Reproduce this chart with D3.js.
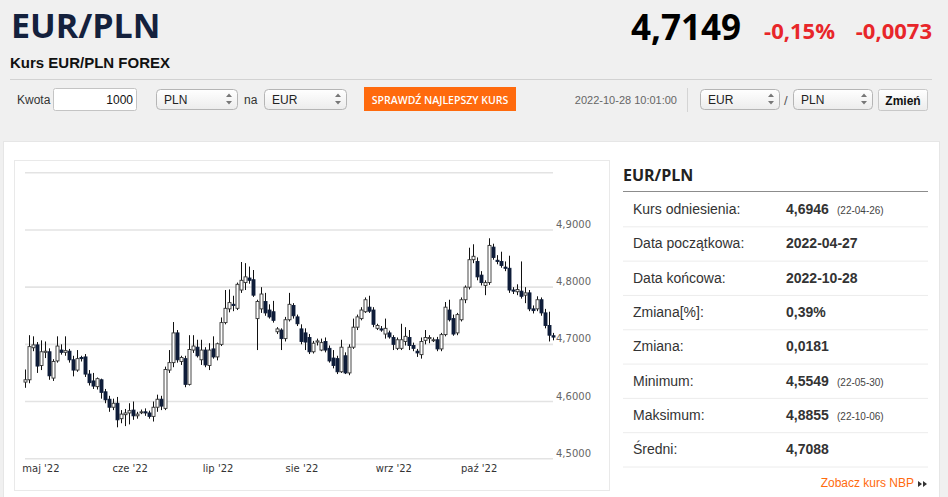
<!DOCTYPE html>
<html>
<head>
<meta charset="utf-8">
<script src="https://cdn.jsdelivr.net/npm/d3@7"></script>
<style>
  body { margin: 0; background: #f0f0f0; overflow: hidden; }
  svg text { font-family: "Liberation Sans", Arial, sans-serif; }
</style>
</head>
<body>
<svg id="page" width="948" height="497"></svg>
<script>
// daily candles EUR/PLN, trading days 2022-04-27 .. 2022-10-28
const openV = [4.634,4.638,4.694,4.699,4.663,4.686,4.687,4.641,4.671,4.690,4.686,4.688,4.673,4.655,4.677,4.678,4.648,4.636,4.626,4.638,4.617,4.604,4.590,4.597,
  4.570,4.577,4.580,4.585,4.575,4.582,4.582,4.580,4.574,4.590,4.604,4.588,4.655,4.668,4.720,4.670,4.675,4.630,4.690,4.695,4.673,4.690,4.663,
  4.692,4.678,4.700,4.738,4.762,4.770,4.763,4.795,4.808,4.816,4.813,4.745,4.762,4.775,4.760,4.757,4.722,4.725,4.710,4.743,4.768,
  4.748,4.727,4.720,4.712,4.687,4.704,4.690,4.705,4.693,4.676,4.675,4.652,4.680,4.650,4.695,4.730,4.745,4.757,4.765,4.760,4.728,4.727,4.718,
  4.720,4.712,4.693,4.693,4.705,4.712,4.698,4.688,4.682,4.707,4.710,4.708,4.708,4.692,4.717,4.760,4.745,4.720,4.743,4.778,4.800,4.848,
  4.845,4.821,4.803,4.808,4.870,4.847,4.845,4.835,4.833,4.795,4.792,4.793,4.786,4.790,4.762,4.762,4.778,4.755,4.733,4.715];
const highV = [4.656,4.716,4.714,4.704,4.707,4.705,4.693,4.674,4.714,4.700,4.714,4.692,4.680,4.690,4.680,4.683,4.655,4.650,4.642,4.640,4.622,4.610,4.605,4.608,
  4.585,4.587,4.597,4.600,4.582,4.586,4.588,4.584,4.600,4.612,4.610,4.661,4.690,4.739,4.725,4.680,4.680,4.716,4.716,4.708,4.708,4.695,4.702,
  4.714,4.703,4.747,4.795,4.796,4.785,4.808,4.844,4.842,4.836,4.830,4.778,4.800,4.790,4.770,4.776,4.730,4.728,4.748,4.790,4.772,
  4.752,4.735,4.728,4.718,4.706,4.710,4.710,4.712,4.698,4.690,4.680,4.708,4.686,4.700,4.745,4.752,4.765,4.782,4.785,4.765,4.736,4.732,4.745,
  4.724,4.716,4.712,4.736,4.730,4.725,4.703,4.692,4.712,4.725,4.716,4.712,4.713,4.720,4.774,4.778,4.752,4.755,4.782,4.803,4.869,4.875,
  4.852,4.828,4.812,4.8855,4.876,4.856,4.862,4.845,4.855,4.800,4.805,4.845,4.800,4.795,4.768,4.784,4.782,4.762,4.757,4.720];
const lowV = [4.624,4.632,4.688,4.650,4.655,4.676,4.638,4.636,4.668,4.682,4.680,4.668,4.644,4.652,4.670,4.643,4.628,4.622,4.621,4.605,4.597,4.582,4.585,4.5549,
  4.562,4.557,4.560,4.568,4.570,4.578,4.575,4.570,4.565,4.582,4.585,4.585,4.650,4.660,4.668,4.664,4.625,4.628,4.685,4.677,4.664,4.660,4.655,
  4.675,4.672,4.697,4.735,4.756,4.758,4.760,4.790,4.795,4.806,4.783,4.690,4.755,4.750,4.745,4.738,4.718,4.690,4.705,4.740,4.745,
  4.732,4.700,4.690,4.683,4.684,4.698,4.688,4.686,4.668,4.658,4.648,4.650,4.648,4.646,4.692,4.725,4.742,4.755,4.755,4.730,4.725,4.722,4.710,
  4.710,4.690,4.690,4.690,4.698,4.690,4.688,4.678,4.675,4.700,4.702,4.704,4.688,4.688,4.714,4.740,4.715,4.716,4.740,4.772,4.796,4.842,
  4.812,4.803,4.786,4.804,4.848,4.840,4.834,4.828,4.790,4.788,4.786,4.780,4.772,4.758,4.754,4.758,4.750,4.728,4.705,4.707];
const closeV = [4.638,4.696,4.699,4.662,4.687,4.688,4.645,4.670,4.697,4.686,4.689,4.673,4.655,4.675,4.675,4.648,4.633,4.627,4.640,4.616,4.603,4.590,4.597,4.568,
  4.578,4.580,4.584,4.575,4.578,4.582,4.580,4.574,4.590,4.604,4.592,4.656,4.668,4.720,4.673,4.677,4.630,4.691,4.697,4.680,4.690,4.664,4.690,
  4.678,4.701,4.738,4.763,4.773,4.768,4.805,4.812,4.818,4.812,4.786,4.775,4.788,4.755,4.748,4.742,4.727,4.710,4.743,4.770,4.750,
  4.736,4.705,4.704,4.687,4.702,4.706,4.703,4.690,4.671,4.663,4.652,4.695,4.650,4.695,4.730,4.748,4.760,4.778,4.758,4.735,4.733,4.725,4.728,
  4.713,4.700,4.708,4.708,4.714,4.698,4.693,4.685,4.705,4.712,4.712,4.708,4.692,4.717,4.765,4.743,4.718,4.752,4.778,4.800,4.848,4.854,
  4.818,4.808,4.808,4.873,4.852,4.845,4.838,4.833,4.795,4.793,4.796,4.784,4.790,4.762,4.759,4.778,4.755,4.733,4.716,4.7127];

const yTicks = [4.5, 4.6, 4.7, 4.8, 4.9, 5.0];
const yTickLabels = ["4,5000", "4,6000", "4,7000", "4,8000", "4,9000", ""];
const monthStarts = ["2022-05-01", "2022-06-01", "2022-07-01", "2022-08-01", "2022-09-01", "2022-10-01"];
const monthLabels = ["maj '22", "cze '22", "lip '22", "sie '22", "wrz '22", "paź '22"];

const statLabels = ["Kurs odniesienia:", "Data początkowa:", "Data końcowa:", "Zmiana[%]:", "Zmiana:", "Minimum:", "Maksimum:", "Średni:"];
const statValues = ["4,6946", "2022-04-27", "2022-10-28", "0,39%", "0,0181", "4,5549", "4,8855", "4,7088"];
const statNotes = ["(22-04-26)", "", "", "", "", "(22-05-30)", "(22-10-06)", ""];

// trading days (weekdays) for the x axis
const dates = [];
for (let d = new Date(Date.UTC(2022, 3, 27)); dates.length < closeV.length; d = new Date(d.getTime() + 864e5)) {
  const wd = d.getUTCDay();
  if (wd !== 0 && wd !== 6) dates.push(d);
}
const candles = dates.map((d, i) => ({date: d, o: openV[i], h: highV[i], l: lowV[i], c: closeV[i]}));

const svg = d3.select("#page");

// ---------- header ----------
svg.append("rect").attr("width", 948).attr("height", 497).attr("fill", "#f0f0f0");

svg.append("text").attr("x", 11).attr("y", 38)
  .style("font-family", "'Open Sans', sans-serif").style("font-weight", 700)
  .style("font-size", "34px").attr("fill", "#14213d").text("EUR/PLN");
svg.append("text").attr("x", 10).attr("y", 68)
  .style("font-weight", "bold").style("font-size", "15px").attr("fill", "#111")
  .text("Kurs EUR/PLN FOREX");

svg.append("text").attr("x", 741).attr("y", 40).attr("text-anchor", "end")
  .style("font-family", "'Open Sans', sans-serif").style("font-weight", 700)
  .style("font-size", "35px").attr("fill", "#000").text("4,7149");
svg.append("text").attr("x", 835).attr("y", 39).attr("text-anchor", "end")
  .style("font-family", "'Open Sans', sans-serif").style("font-weight", 700)
  .style("font-size", "22px").attr("fill", "#e8262a").text("-0,15%");
svg.append("text").attr("x", 932).attr("y", 39).attr("text-anchor", "end")
  .style("font-family", "'Open Sans', sans-serif").style("font-weight", 700)
  .style("font-size", "22px").attr("fill", "#e8262a").text("-0,0073");

svg.append("line").attr("x1", 10).attr("x2", 932).attr("y1", 79.5).attr("y2", 79.5)
  .attr("stroke", "#d2d2d2");

// form row
const defs = svg.append("defs");
const grad = defs.append("linearGradient").attr("id", "selGrad").attr("x1", 0).attr("x2", 0).attr("y1", 0).attr("y2", 1);
grad.append("stop").attr("offset", "0%").attr("stop-color", "#ffffff");
grad.append("stop").attr("offset", "100%").attr("stop-color", "#ececec");

function selectBox(x, w, label) {
  const g = svg.append("g").attr("transform", `translate(${x},89)`);
  g.append("rect").attr("x", 0.5).attr("y", 0.5).attr("width", w).attr("height", 20)
    .attr("rx", 4).attr("fill", "url(#selGrad)").attr("stroke", "#b5b5b5");
  g.append("text").attr("x", 8).attr("y", 15).style("font-size", "12px").attr("fill", "#222").text(label);
  g.append("path").attr("d", `M${w - 11},8 l3,-3.5 l3,3.5 Z M${w - 11},12 l3,3.5 l3,-3.5 Z`).attr("fill", "#777");
}

svg.append("text").attr("x", 17).attr("y", 104).style("font-size", "12px").attr("fill", "#333").text("Kwota");
svg.append("rect").attr("x", 53.5).attr("y", 88.5).attr("width", 83).attr("height", 22).attr("rx", 2)
  .attr("fill", "#fff").attr("stroke", "#c4c4c4");
svg.append("text").attr("x", 133).attr("y", 104).attr("text-anchor", "end").style("font-size", "12px").attr("fill", "#111").text("1000");
selectBox(156, 81, "PLN");
svg.append("text").attr("x", 244).attr("y", 104).style("font-size", "12px").attr("fill", "#333").text("na");
selectBox(264, 82, "EUR");
svg.append("rect").attr("x", 364).attr("y", 87).attr("width", 152).attr("height", 24).attr("fill", "#ff6a0d");
svg.append("text").attr("x", 440).attr("y", 103.5).attr("text-anchor", "middle")
  .style("font-family", "'Open Sans', sans-serif").style("font-size", "10.5px").style("font-weight", 600)
  .attr("fill", "#fff").text("SPRAWDŹ NAJLEPSZY KURS");
svg.append("text").attr("x", 677).attr("y", 104).attr("text-anchor", "end").style("font-size", "11px").attr("fill", "#666")
  .text("2022-10-28 10:01:00");
svg.append("line").attr("x1", 687.5).attr("x2", 687.5).attr("y1", 88).attr("y2", 112).attr("stroke", "#d4d4d4");
selectBox(700, 79, "EUR");
svg.append("text").attr("x", 784).attr("y", 105).style("font-size", "13px").attr("fill", "#555").text("/");
selectBox(793, 79, "PLN");
svg.append("rect").attr("x", 878.5).attr("y", 89.5).attr("width", 49).attr("height", 21).attr("rx", 2)
  .attr("fill", "url(#selGrad)").attr("stroke", "#c8c8c8");
svg.append("text").attr("x", 903).attr("y", 104.5).attr("text-anchor", "middle")
  .style("font-size", "12px").style("font-weight", "bold").attr("fill", "#111").text("Zmień");

// ---------- main panel ----------
svg.append("rect").attr("x", 3.5).attr("y", 141.5).attr("width", 936).attr("height", 370)
  .attr("fill", "#fff").attr("stroke", "#e6e6e6");
svg.append("rect").attr("x", 14.5).attr("y", 160.5).attr("width", 595).attr("height", 330)
  .attr("fill", "#fff").attr("stroke", "#e9e9e9");

// ---------- chart ----------
const x = d3.scaleBand().domain(d3.range(candles.length)).range([24, 554]).paddingInner(0.35);
const y = d3.scaleLinear().domain([4.5, 5.0]).range([458.7, 172.8]);
const chart = svg.append("g");

chart.append("g").selectAll("line").data(yTicks).join("line")
  .attr("x1", 25).attr("x2", 553)
  .attr("y1", d => y(d)).attr("y2", d => y(d))
  .attr("stroke", "#e3e3e3").attr("stroke-width", 1.6);

chart.append("g").selectAll("text").data(yTicks).join("text")
  .attr("x", 556).attr("y", d => y(d) - 2)
  .style("font-family", "'DejaVu Sans', sans-serif").style("font-size", "10px").attr("fill", "#666")
  .text((d, i) => yTickLabels[i]);

// month label positions: interpolate calendar date into trading-day index
function dateToIndex(dt) {
  const t = dt.getTime();
  for (let i = 0; i < dates.length - 1; i++) {
    const a = dates[i].getTime(), b = dates[i + 1].getTime();
    if (t >= a && t <= b) return i + (t - a) / (b - a);
  }
  return 0;
}
const step = x.step();
chart.append("g").selectAll("text").data(monthStarts).join("text")
  .attr("x", d => x(0) + x.bandwidth() / 2 + dateToIndex(new Date(d + "T00:00:00Z")) * step + 5)
  .attr("y", 472).attr("text-anchor", "middle")
  .style("font-family", "'DejaVu Sans', sans-serif").style("font-size", "10px").attr("fill", "#333")
  .text((d, i) => monthLabels[i]);

const cg = chart.append("g").selectAll("g").data(candles).join("g");
cg.append("line")
  .attr("x1", (d, i) => Math.round(x(i) + x.bandwidth() / 2) + 0.5)
  .attr("x2", (d, i) => Math.round(x(i) + x.bandwidth() / 2) + 0.5)
  .attr("y1", d => y(d.h)).attr("y2", d => y(d.l))
  .attr("stroke", "#111").attr("stroke-width", 1);
cg.append("rect")
  .attr("x", (d, i) => Math.round(x(i) + x.bandwidth() / 2) - 1)
  .attr("width", 3)
  .attr("y", d => y(Math.max(d.o, d.c)))
  .attr("height", d => Math.max(1, Math.abs(y(d.o) - y(d.c))))
  .attr("fill", d => d.c >= d.o ? "#fff" : "#0f1d3a")
  .attr("stroke", d => d.c >= d.o ? "#333" : "#0f1d3a")
  .attr("stroke-width", 0.9);

// ---------- stats table ----------
svg.append("text").attr("x", 623).attr("y", 181)
  .style("font-family", "'Open Sans', sans-serif").style("font-weight", 700)
  .style("font-size", "16px").attr("fill", "#222").text("EUR/PLN");
svg.append("line").attr("x1", 623).attr("x2", 928).attr("y1", 191.5).attr("y2", 191.5).attr("stroke", "#8c8c8c");

const rowY = d3.scaleBand().domain(d3.range(statLabels.length)).range([192, 466.5]);
const rows = svg.append("g").selectAll("g").data(statLabels).join("g")
  .attr("transform", (d, i) => `translate(0,${rowY(i)})`);
rows.append("line").attr("x1", 623).attr("x2", 928)
  .attr("y1", rowY.bandwidth() + 0.5).attr("y2", rowY.bandwidth() + 0.5).attr("stroke", "#ececec");
rows.append("text").attr("x", 633).attr("y", 22).style("font-size", "14px").attr("fill", "#333").text(d => d);
rows.append("text").attr("x", 786).attr("y", 22).style("font-size", "14px").style("font-weight", "bold")
  .attr("fill", "#333").text((d, i) => statValues[i]);
rows.append("text").attr("x", 837).attr("y", 22).style("font-size", "10px").attr("fill", "#444")
  .text((d, i) => statNotes[i]);

svg.append("text").attr("x", 914).attr("y", 487).attr("text-anchor", "end")
  .style("font-size", "12px").attr("fill", "#ff6a0d").text("Zobacz kurs NBP");
svg.append("path").attr("d", "M918,481 l4,3 l-4,3 Z M923,481 l4,3 l-4,3 Z").attr("fill", "#333");
</script>
</body>
</html>
